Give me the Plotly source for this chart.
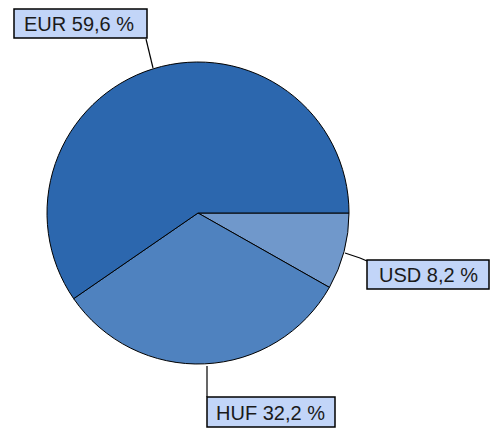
import plotly.graph_objects as go

currencies = ["EUR", "HUF", "USD"]
shares = [59.6, 32.2, 8.2]
slice_colors = ["#2C67AE", "#4F82BF", "#7098CB"]

W, H = 498, 428

def px(x):
    return x / W

def py(y):
    return 1 - y / H

cx, cy, r = 198, 213, 151

# slices laid out clockwise from 3 o'clock in reverse order (USD, HUF, EUR),
# which equals EUR, HUF, USD counterclockwise from 3 o'clock
fig = go.Figure(go.Pie(
    labels=currencies[::-1],
    values=shares[::-1],
    sort=False,
    direction="clockwise",
    rotation=90,
    textinfo="none",
    hoverinfo="label+percent",
    marker=dict(colors=slice_colors[::-1], line=dict(color="#000000", width=1)),
    domain=dict(x=[px(cx - r), px(cx + r)], y=[py(cy + r), py(cy - r)]),
    showlegend=False,
))

label_texts = [f"{c} {v:.1f} %".replace(".", ",") for c, v in zip(currencies, shares)]

# boxes (x0, y0, x1, y1) in px, text start x, and leader lines
boxes = {
    "EUR": (14, 9, 147, 38),
    "HUF": (207, 397, 335, 427),
    "USD": (367, 260, 489, 289),
}
text_x = {"EUR": 22, "HUF": 214, "USD": 377}
leaders = {
    "EUR": [(146, 39), (153, 68)],
    "HUF": [(207, 366), (207, 397)],
    "USD": [(345, 253), (360, 258), (367, 261)],
}

shapes = []
annotations = []
for c, t in zip(currencies, label_texts):
    pts = leaders[c]
    for (x0, y0), (x1, y1) in zip(pts[:-1], pts[1:]):
        shapes.append(dict(type="line", xref="paper", yref="paper",
                           x0=px(x0), y0=py(y0), x1=px(x1), y1=py(y1),
                           line=dict(color="#000000", width=1.2)))
    bx0, by0, bx1, by1 = boxes[c]
    shapes.append(dict(type="rect", xref="paper", yref="paper",
                       x0=px(bx0), y0=py(by1), x1=px(bx1), y1=py(by0),
                       fillcolor="#C2D5F8", line=dict(color="#000000", width=1.5)))
    annotations.append(dict(xref="paper", yref="paper",
                            x=px(text_x[c]), y=py((by0 + by1) / 2 + 0.5),
                            xanchor="left", yanchor="middle", showarrow=False,
                            text=t,
                            font=dict(family="Liberation Sans, Arial, sans-serif",
                                      size=20, color="#1a1a1a")))

fig.update_layout(
    width=W, height=H,
    margin=dict(l=0, r=0, t=0, b=0),
    paper_bgcolor="#FFFFFF",
    plot_bgcolor="#FFFFFF",
    shapes=shapes,
    annotations=annotations,
)

fig.write_html("out.html")
